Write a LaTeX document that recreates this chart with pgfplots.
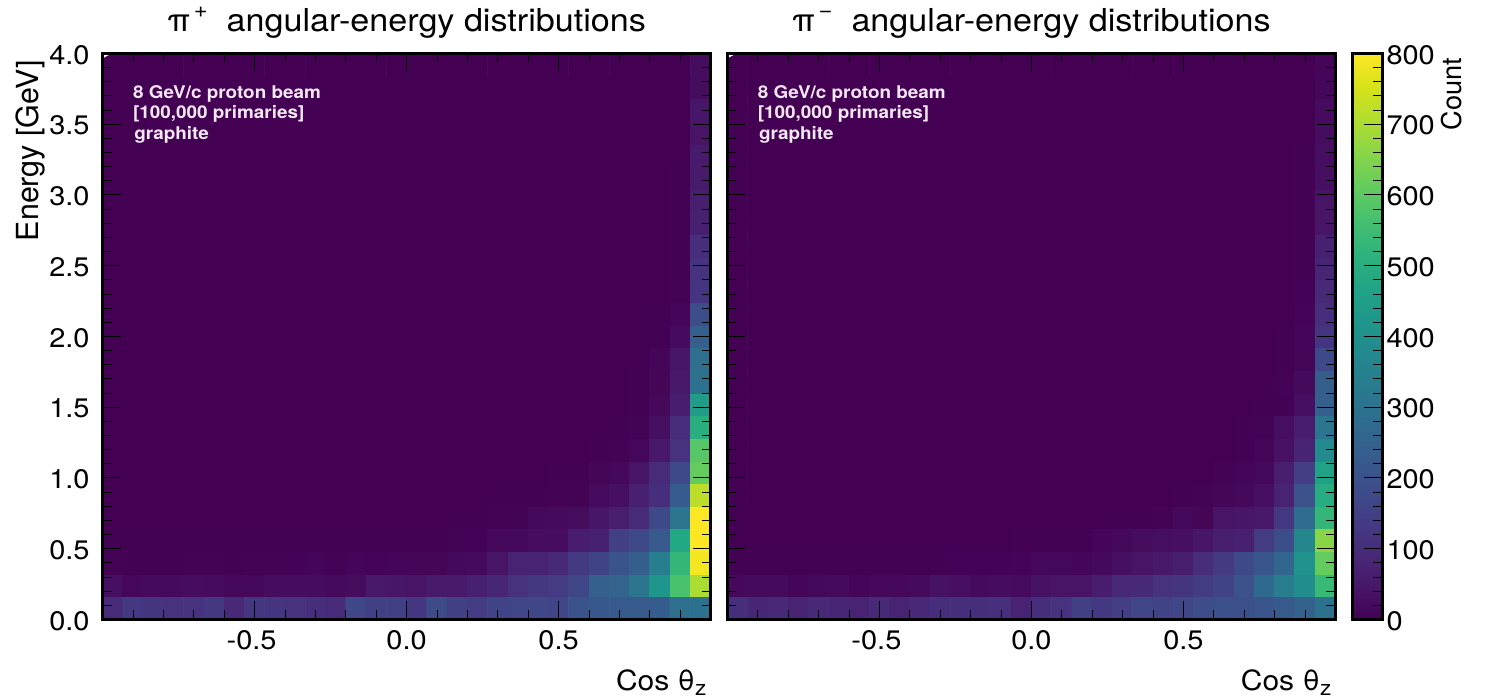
\documentclass[border=0pt]{standalone}
\usepackage{fontspec}
\setmainfont[FakeStretch=1.08]{TeX Gyre Heros}
\newfontfamily\rotfont{TeX Gyre Heros}
\usepackage{pgfplots}
\usepackage{pgfplotstable}
\pgfplotsset{compat=1.18}
\definecolor{notecol}{HTML}{F3E9F3}
% counts per bin, 30 bins in cos(theta_z), 25 bins in energy (bottom row first)
\pgfplotstableread[row sep=\\]{z\\
95\\130\\120\\115\\115\\130\\90\\125\\120\\115\\105\\95\\170\\150\\150\\125\\180\\150\\140\\160\\165\\170\\165\\205\\215\\220\\225\\230\\290\\300\\
30\\12\\20\\20\\25\\22\\15\\15\\25\\25\\25\\20\\25\\50\\45\\40\\55\\55\\70\\85\\115\\130\\140\\170\\240\\255\\310\\420\\570\\700\\
3\\2\\2\\2\\3\\3\\2\\3\\3\\4\\8\\3\\8\\7\\8\\10\\10\\15\\20\\40\\75\\75\\90\\135\\160\\205\\235\\340\\530\\790\\
1\\1\\1\\1\\1\\1\\1\\1\\1\\1\\1\\1\\1\\1\\1\\1\\1\\5\\4\\15\\15\\25\\25\\60\\70\\150\\175\\220\\480\\800\\
0\\0\\0\\0\\0\\0\\0\\0\\0\\0\\0\\0\\0\\0\\0\\0\\0\\1\\2\\3\\5\\15\\20\\25\\45\\65\\95\\175\\310\\800\\
0\\0\\0\\0\\0\\0\\0\\0\\0\\0\\0\\0\\0\\0\\0\\0\\0\\0\\0\\1\\1\\2\\3\\5\\22\\30\\70\\105\\230\\720\\
0\\0\\0\\0\\0\\0\\0\\0\\0\\0\\0\\0\\0\\0\\0\\0\\0\\0\\0\\0\\0\\0\\1\\2\\10\\15\\40\\95\\175\\610\\
0\\0\\0\\0\\0\\0\\0\\0\\0\\0\\0\\0\\0\\0\\0\\0\\0\\0\\0\\0\\0\\0\\0\\0\\1\\3\\12\\50\\115\\590\\
0\\0\\0\\0\\0\\0\\0\\0\\0\\0\\0\\0\\0\\0\\0\\0\\0\\0\\0\\0\\0\\0\\0\\0\\0\\1\\5\\30\\100\\500\\
0\\0\\0\\0\\0\\0\\0\\0\\0\\0\\0\\0\\0\\0\\0\\0\\0\\0\\0\\0\\0\\0\\0\\0\\0\\0\\1\\15\\60\\440\\
0\\0\\0\\0\\0\\0\\0\\0\\0\\0\\0\\0\\0\\0\\0\\0\\0\\0\\0\\0\\0\\0\\0\\0\\0\\0\\1\\10\\50\\300\\
0\\0\\0\\0\\0\\0\\0\\0\\0\\0\\0\\0\\0\\0\\0\\0\\0\\0\\0\\0\\0\\0\\0\\0\\0\\0\\0\\8\\45\\290\\
0\\0\\0\\0\\0\\0\\0\\0\\0\\0\\0\\0\\0\\0\\0\\0\\0\\0\\0\\0\\0\\0\\0\\0\\0\\0\\0\\2\\22\\240\\
0\\0\\0\\0\\0\\0\\0\\0\\0\\0\\0\\0\\0\\0\\0\\0\\0\\0\\0\\0\\0\\0\\0\\0\\0\\0\\0\\1\\8\\190\\
0\\0\\0\\0\\0\\0\\0\\0\\0\\0\\0\\0\\0\\0\\0\\0\\0\\0\\0\\0\\0\\0\\0\\0\\0\\0\\0\\0\\3\\120\\
0\\0\\0\\0\\0\\0\\0\\0\\0\\0\\0\\0\\0\\0\\0\\0\\0\\0\\0\\0\\0\\0\\0\\0\\0\\0\\0\\0\\2\\115\\
0\\0\\0\\0\\0\\0\\0\\0\\0\\0\\0\\0\\0\\0\\0\\0\\0\\0\\0\\0\\0\\0\\0\\0\\0\\0\\0\\0\\2\\105\\
0\\0\\0\\0\\0\\0\\0\\0\\0\\0\\0\\0\\0\\0\\0\\0\\0\\0\\0\\0\\0\\0\\0\\0\\0\\0\\0\\0\\1\\70\\
0\\0\\0\\0\\0\\0\\0\\0\\0\\0\\0\\0\\0\\0\\0\\0\\0\\0\\0\\0\\0\\0\\0\\0\\0\\0\\0\\0\\1\\65\\
0\\0\\0\\0\\0\\0\\0\\0\\0\\0\\0\\0\\0\\0\\0\\0\\0\\0\\0\\0\\0\\0\\0\\0\\0\\0\\0\\0\\1\\55\\
0\\0\\0\\0\\0\\0\\0\\0\\0\\0\\0\\0\\0\\0\\0\\0\\0\\0\\0\\0\\0\\0\\0\\0\\0\\0\\0\\0\\0\\55\\
0\\0\\0\\0\\0\\0\\0\\0\\0\\0\\0\\0\\0\\0\\0\\0\\0\\0\\0\\0\\0\\0\\0\\0\\0\\0\\0\\0\\0\\40\\
0\\0\\0\\0\\0\\0\\0\\0\\0\\0\\0\\0\\0\\0\\0\\0\\0\\0\\0\\0\\0\\0\\0\\0\\0\\0\\0\\0\\0\\45\\
0\\0\\0\\0\\0\\0\\0\\0\\0\\0\\0\\0\\0\\0\\0\\0\\0\\0\\0\\0\\0\\0\\0\\0\\0\\0\\0\\0\\0\\25\\
0\\0\\0\\0\\0\\0\\0\\0\\0\\0\\0\\0\\0\\0\\0\\0\\0\\0\\0\\0\\0\\0\\0\\0\\0\\0\\0\\0\\0\\25\\
}\tablePlus
\pgfplotstableread[row sep=\\]{z\\
105\\85\\90\\75\\90\\85\\75\\90\\75\\90\\105\\105\\105\\110\\75\\105\\115\\150\\130\\145\\165\\160\\170\\185\\195\\195\\210\\225\\250\\300\\
15\\18\\20\\8\\16\\18\\8\\15\\15\\18\\35\\30\\20\\25\\22\\35\\40\\40\\60\\90\\90\\115\\120\\140\\160\\200\\270\\335\\390\\540\\
1\\1\\1\\1\\1\\1\\1\\1\\1\\1\\2\\4\\4\\4\\6\\12\\12\\8\\15\\30\\40\\50\\65\\100\\135\\175\\210\\265\\410\\610\\
0\\0\\0\\0\\0\\0\\0\\0\\0\\0\\0\\0\\0\\0\\1\\1\\1\\2\\8\\15\\25\\28\\30\\45\\65\\70\\140\\190\\370\\660\\
0\\0\\0\\0\\0\\0\\0\\0\\0\\0\\0\\0\\0\\0\\0\\0\\0\\0\\0\\1\\1\\3\\15\\10\\40\\45\\50\\130\\280\\530\\
0\\0\\0\\0\\0\\0\\0\\0\\0\\0\\0\\0\\0\\0\\0\\0\\0\\0\\0\\0\\0\\0\\1\\5\\10\\15\\30\\75\\200\\495\\
0\\0\\0\\0\\0\\0\\0\\0\\0\\0\\0\\0\\0\\0\\0\\0\\0\\0\\0\\0\\0\\0\\0\\0\\3\\8\\15\\65\\145\\460\\
0\\0\\0\\0\\0\\0\\0\\0\\0\\0\\0\\0\\0\\0\\0\\0\\0\\0\\0\\0\\0\\0\\0\\0\\0\\1\\8\\35\\80\\380\\
0\\0\\0\\0\\0\\0\\0\\0\\0\\0\\0\\0\\0\\0\\0\\0\\0\\0\\0\\0\\0\\0\\0\\0\\0\\1\\5\\28\\60\\310\\
0\\0\\0\\0\\0\\0\\0\\0\\0\\0\\0\\0\\0\\0\\0\\0\\0\\0\\0\\0\\0\\0\\0\\0\\0\\0\\1\\2\\30\\240\\
0\\0\\0\\0\\0\\0\\0\\0\\0\\0\\0\\0\\0\\0\\0\\0\\0\\0\\0\\0\\0\\0\\0\\0\\0\\0\\0\\3\\18\\235\\
0\\0\\0\\0\\0\\0\\0\\0\\0\\0\\0\\0\\0\\0\\0\\0\\0\\0\\0\\0\\0\\0\\0\\0\\0\\0\\0\\1\\10\\175\\
0\\0\\0\\0\\0\\0\\0\\0\\0\\0\\0\\0\\0\\0\\0\\0\\0\\0\\0\\0\\0\\0\\0\\0\\0\\0\\0\\1\\8\\120\\
0\\0\\0\\0\\0\\0\\0\\0\\0\\0\\0\\0\\0\\0\\0\\0\\0\\0\\0\\0\\0\\0\\0\\0\\0\\0\\0\\0\\6\\100\\
0\\0\\0\\0\\0\\0\\0\\0\\0\\0\\0\\0\\0\\0\\0\\0\\0\\0\\0\\0\\0\\0\\0\\0\\0\\0\\0\\0\\4\\90\\
0\\0\\0\\0\\0\\0\\0\\0\\0\\0\\0\\0\\0\\0\\0\\0\\0\\0\\0\\0\\0\\0\\0\\0\\0\\0\\0\\0\\2\\80\\
0\\0\\0\\0\\0\\0\\0\\0\\0\\0\\0\\0\\0\\0\\0\\0\\0\\0\\0\\0\\0\\0\\0\\0\\0\\0\\0\\0\\2\\70\\
0\\0\\0\\0\\0\\0\\0\\0\\0\\0\\0\\0\\0\\0\\0\\0\\0\\0\\0\\0\\0\\0\\0\\0\\0\\0\\0\\0\\1\\40\\
0\\0\\0\\0\\0\\0\\0\\0\\0\\0\\0\\0\\0\\0\\0\\0\\0\\0\\0\\0\\0\\0\\0\\0\\0\\0\\0\\0\\1\\40\\
0\\0\\0\\0\\0\\0\\0\\0\\0\\0\\0\\0\\0\\0\\0\\0\\0\\0\\0\\0\\0\\0\\0\\0\\0\\0\\0\\0\\1\\30\\
0\\0\\0\\0\\0\\0\\0\\0\\0\\0\\0\\0\\0\\0\\0\\0\\0\\0\\0\\0\\0\\0\\0\\0\\0\\0\\0\\0\\1\\28\\
0\\0\\0\\0\\0\\0\\0\\0\\0\\0\\0\\0\\0\\0\\0\\0\\0\\0\\0\\0\\0\\0\\0\\0\\0\\0\\0\\0\\0\\25\\
0\\0\\0\\0\\0\\0\\0\\0\\0\\0\\0\\0\\0\\0\\0\\0\\0\\0\\0\\0\\0\\0\\0\\0\\0\\0\\0\\0\\0\\22\\
0\\0\\0\\0\\0\\0\\0\\0\\0\\0\\0\\0\\0\\0\\0\\0\\0\\0\\0\\0\\0\\0\\0\\0\\0\\0\\0\\0\\0\\12\\
0\\0\\0\\0\\0\\0\\0\\0\\0\\0\\0\\0\\0\\0\\0\\0\\0\\0\\0\\0\\0\\0\\0\\0\\0\\0\\0\\0\\0\\8\\
}\tableMinus
\pgfplotsset{
  panel/.style={
    scale only axis, width=304pt, height=283pt,
    anchor=south west,
    xmin=-1, xmax=1, ymin=0, ymax=4,
    colormap/viridis, point meta min=0, point meta max=800,
    axis on top,
    axis line style={line width=1.5pt, black},
    tick align=inside, xtick pos=both, ytick pos=both,
    major tick length=9pt, minor tick length=4.5pt,
    every major tick/.append style={line width=0.55pt, black},
    every minor tick/.append style={line width=0.42pt, black},
    xtick={-0.5,0,0.5}, xticklabels={\hspace*{-3pt}-0.5,0.0,0.5},
    minor xtick={-0.9,-0.8,-0.7,-0.6,-0.4,-0.3,-0.2,-0.1,0.1,0.2,0.3,0.4,0.6,0.7,0.8,0.9},
    ytick={0,0.5,1,1.5,2,2.5,3,3.5,4},
    minor ytick={0.1,0.2,0.3,0.4,0.6,0.7,0.8,0.9,1.1,1.2,1.3,1.4,1.6,1.7,1.8,1.9,2.1,2.2,2.3,2.4,2.6,2.7,2.8,2.9,3.1,3.2,3.3,3.4,3.6,3.7,3.8,3.9},
    tick label style={font=\fontsize{13.4}{14}\selectfont},
    xticklabel style={yshift=-2pt},
    yticklabel style={xshift=-3pt, yshift=-0.7pt},
    title style={font=\fontsize{15.8}{17}\selectfont, at={(0.5,1)}, anchor=south, yshift=-2pt},
    xlabel style={font=\fontsize{13.9}{15}\selectfont, at={(axis description cs:1,0)}, anchor=north east, yshift=-21.5pt, xshift=1.5pt},
    clip=true,
  },
}
\tikzset{note/.style={font=\fontsize{8.75}{10}\bfseries\selectfont, text=notecol, anchor=west, inner sep=0pt}}
\begin{document}
\begin{tikzpicture}
\path[use as bounding box] (0,0) rectangle (743pt,349pt);
\begin{axis}[panel, at={(51.3pt,39.3pt)},
  title={π\raisebox{0.45em}{\fontsize{11}{12}\selectfont\,+}\ \ angular-energy distributions},
  xlabel={Cos θ\raisebox{-0.2em}{\fontsize{10.5}{11}\selectfont z}},
  yticklabels={0.0,0.5,1.0,1.5,2.0,2.5,3.0,3.5,4.0},
  ylabel={\rotfont\fontsize{15.2}{16}\selectfont Energy [GeV]},
  ylabel style={at={(axis description cs:-0.083,1)}, anchor=south east, rotate=0},
]
\addplot[matrix plot*, mesh/cols=30, point meta=\thisrow{z}] table[x index=0, y index=0, x expr={-1+(mod(\coordindex,30)+0.5)/15}, y expr={(floor(\coordindex/30)+0.5)*0.16}] {\tablePlus};
\node[note] at (rel axis cs:0.0495,0.929) {8 GeV/c proton beam};
\node[note] at (rel axis cs:0.0495,0.8925) {[100,000 primaries]};
\node[note] at (rel axis cs:0.0515,0.856) {graphite};
\end{axis}
\begin{axis}[panel, at={(363.7pt,39.3pt)},
  title={π\raisebox{0.45em}{\fontsize{11}{12}\selectfont\,−}\ \ angular-energy distributions},
  xlabel={Cos θ\raisebox{-0.2em}{\fontsize{10.5}{11}\selectfont z}},
  yticklabels={},
  colorbar,
  colorbar style={
    at={(1.028,0)}, anchor=south west,
    width=15pt,
    axis line style={line width=1.5pt, black},
    ytick={0,100,200,300,400,500,600,700,800},
    yticklabels={0,100,200,300,400,500,600,700,800},
    minor ytick={20,40,60,80,120,140,160,180,220,240,260,280,320,340,360,380,420,440,460,480,520,540,560,580,620,640,660,680,720,740,760,780},
    tick align=inside, ytick pos=right, yticklabel pos=right,
    major tick length=9pt, minor tick length=4.5pt,
    every major tick/.append style={line width=0.55pt, black},
    every minor tick/.append style={line width=0.42pt, black},
    yticklabel style={xshift=-1.5pt, yshift=-0.7pt, font=\fontsize{13.4}{14}\selectfont},
    ylabel={\rotfont\fontsize{13.6}{15}\selectfont Count},
    ylabel style={at={(axis description cs:3.9,1.005)}, anchor=south east, rotate=0},
  },
]
\addplot[matrix plot*, mesh/cols=30, point meta=\thisrow{z}] table[x index=0, y index=0, x expr={-1+(mod(\coordindex,30)+0.5)/15}, y expr={(floor(\coordindex/30)+0.5)*0.16}] {\tableMinus};
\node[note] at (rel axis cs:0.0495,0.929) {8 GeV/c proton beam};
\node[note] at (rel axis cs:0.0495,0.8925) {[100,000 primaries]};
\node[note] at (rel axis cs:0.0515,0.856) {graphite};
\end{axis}
\end{tikzpicture}
\end{document}
